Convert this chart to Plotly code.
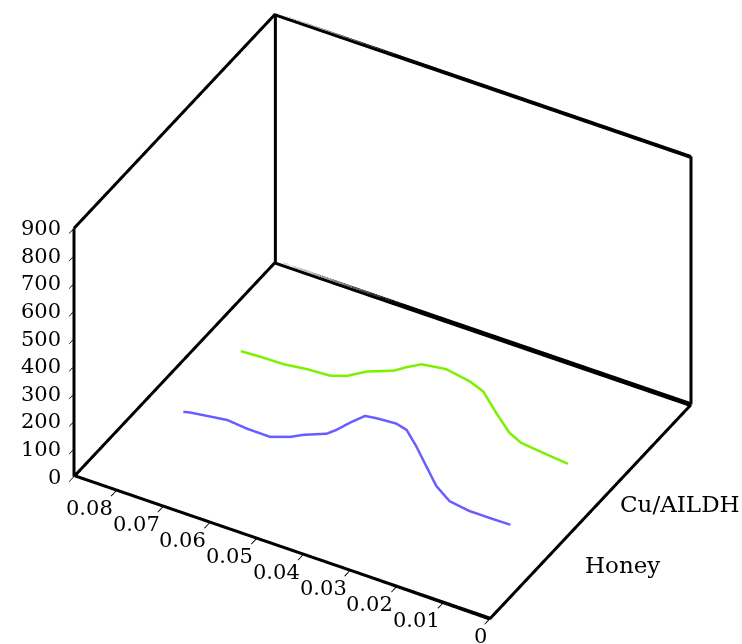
import plotly.graph_objects as go

# ---- data ----
series_names = ["Honey", "Cu/AILDH"]
series_depth = [1, 2]

honey_x = [0.0800, 0.0785, 0.0706, 0.0664, 0.0614, 0.0571, 0.0544, 0.0493, 0.0472, 0.0443,
           0.0411, 0.0386, 0.0344, 0.0322, 0.0301, 0.0280, 0.0258, 0.0230, 0.0187, 0.0145, 0.0100]
honey_z = [27, 33, 52, 45, 44, 69, 92, 126, 152, 195,
           238, 244, 249, 239, 191, 132, 72, 34, 23, 23, 24]

cu_x = [0.0800, 0.0758, 0.0708, 0.0658, 0.0609, 0.0573, 0.0530, 0.0473, 0.0445, 0.0413,
        0.0381, 0.0360, 0.0310, 0.0281, 0.0253, 0.0225, 0.0200, 0.0153, 0.0100]
cu_z = [25, 29, 31, 42, 47, 67, 108, 144, 173, 202,
        210, 215, 200, 180, 118, 63, 41, 32, 23]

value_ticks = [0, 0.01, 0.02, 0.03, 0.04, 0.05, 0.06, 0.07, 0.08]
value_ticktext = ["0", "0.01", "0.02", "0.03", "0.04", "0.05", "0.06", "0.07", "0.08"]
z_ticks = [0, 100, 200, 300, 400, 500, 600, 700, 800, 900]

# axis ranges
depth_range = [-0.17, 3.33]
value_range = [0, 0.089]
z_range = [0, 900]

K = 1000.0  # value axis drawn in thousandths

colors = ["#6a5cff", "#7cf000"]

fig = go.Figure()

# frame edges (walls + floor) built from axis ranges
x0, x1 = depth_range
y0, y1 = value_range[0] * K, value_range[1] * K
z0, z1 = z_range
ddx = (x1 - x0) / 300.0   # ~1 px along depth
ddz = (z1 - z0) / 250.0   # ~1 px vertically

# (start, end, inward depth sign, inward z sign) ; edges along the value axis get
# extra strokes because WebGL draws them thinner than the others
edges = [
    ((x0, y0, z0), (x0, y1, z0), +1, +1),
    ((x0, y0, z0), (x1, y0, z0), 0, 0),
    ((x1, y0, z0), (x1, y1, z0), -1, +1),
    ((x0, y1, z0), (x1, y1, z0), 0, 0),
    ((x0, y1, z0), (x0, y1, z1), 0, 0),
    ((x1, y1, z0), (x1, y1, z1), 0, 0),
    ((x1, y0, z0), (x1, y0, z1), 0, 0),
    ((x0, y1, z1), (x1, y1, z1), 0, 0),
    ((x1, y1, z1), (x1, y0, z1), -1, -1),
]
ex, ey, ez = [], [], []
for a, b, sx, sz in edges:
    offs = [(0, 0)]
    if sx or sz:
        offs += [(sx * ddx, 0), (0, sz * ddz)]
    for ox, oz in offs:
        ex += [a[0] + ox, b[0] + ox, None]
        ey += [a[1], b[1], None]
        ez += [a[2] + oz, b[2] + oz, None]
fig.add_trace(go.Scatter3d(x=ex, y=ey, z=ez, mode="lines",
                           line=dict(color="black", width=6),
                           hoverinfo="skip", showlegend=False))

for name, d, xs, zs, c in [(series_names[0], series_depth[0], honey_x, honey_z, colors[0]),
                           (series_names[1], series_depth[1], cu_x, cu_z, colors[1])]:
    fig.add_trace(go.Scatter3d(x=[d] * len(xs), y=[v * K for v in xs], z=zs, mode="lines",
                               line=dict(color=c, width=5), name=name,
                               showlegend=False))

num_font = dict(family="DejaVu Serif", size=21, color="black")
cat_font = dict(family="DejaVu Serif", size=23, color="black")

annotations = []
for v in z_ticks:
    annotations.append(dict(x=x0, y=y1, z=v, text=str(v), showarrow=False,
                            xanchor="right", yanchor="middle", xshift=-11, font=num_font))
for v, t in zip(value_ticks, value_ticktext):
    annotations.append(dict(x=x0, y=v * K, z=z0, text=t, showarrow=False,
                            xanchor="right", yanchor="top", xshift=-1, yshift=-3, font=num_font))
for d, t in zip(series_depth, series_names):
    annotations.append(dict(x=d, y=y0, z=z0, text=t, showarrow=False,
                            xanchor="center", yanchor="middle", xshift=66, yshift=-18,
                            font=cat_font))

axis_common = dict(showbackground=False, showgrid=False, zeroline=False,
                   showspikes=False, showline=False, showticklabels=False,
                   ticks="outside", tickcolor="black", tickwidth=2, ticklen=6,
                   title=dict(text=""))

scale = 1.51
fig.update_layout(
    width=742, height=644,
    margin=dict(l=0, r=0, t=0, b=0),
    paper_bgcolor="white",
    showlegend=False,
    scene=dict(
        xaxis=dict(range=depth_range, tickvals=series_depth,
                   **{k: v for k, v in axis_common.items() if k != "ticks"}, ticks=""),
        yaxis=dict(range=[y0, y1], tickvals=[v * K for v in value_ticks], **axis_common),
        zaxis=dict(range=z_range, tickvals=z_ticks, **axis_common),
        aspectmode="manual",
        aspectratio=dict(x=0.8534 * scale, y=1.0 * scale, z=0.6517 * scale),
        camera=dict(projection=dict(type="orthographic"),
                    up=dict(x=0, y=0, z=1),
                    center=dict(x=0, y=0, z=0),
                    eye=dict(x=-0.6931 * 2, y=-0.3934 * 2, z=0.6041 * 2)),
        domain=dict(x=[0.031, 1], y=[0.017, 1]),
        annotations=annotations,
    ),
)

fig.write_html("out.html", config={"displayModeBar": False})
